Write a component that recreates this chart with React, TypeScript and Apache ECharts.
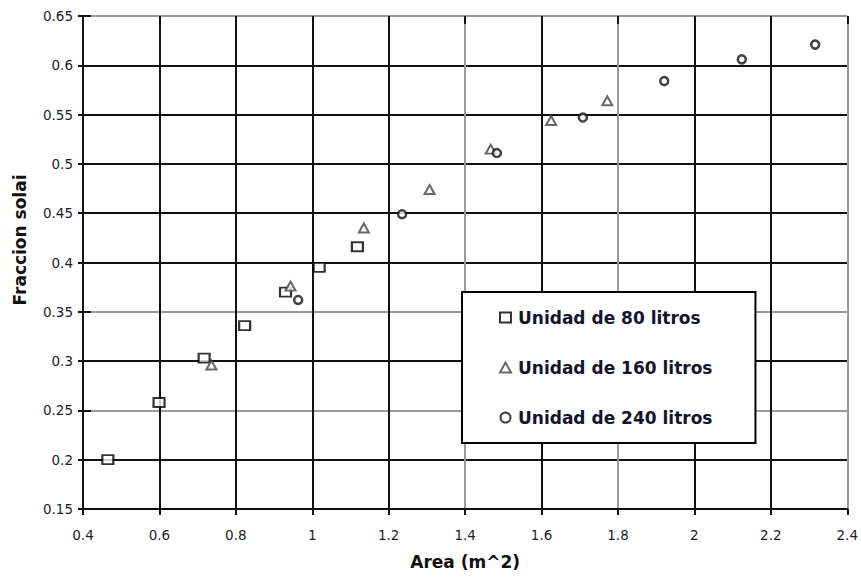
import React, { useEffect, useRef } from "react";
import * as echarts from "echarts";

const area80 = [0.465, 0.599, 0.717, 0.823, 0.93, 1.018, 1.118];
const frac80 = [0.2, 0.258, 0.303, 0.336, 0.37, 0.395, 0.416];
const area160 = [0.736, 0.943, 1.135, 1.307, 1.467, 1.625, 1.772];
const frac160 = [0.296, 0.376, 0.435, 0.474, 0.515, 0.544, 0.564];
const area240 = [0.963, 1.235, 1.483, 1.708, 1.921, 2.124, 2.316];
const frac240 = [0.362, 0.449, 0.511, 0.547, 0.584, 0.606, 0.621];
const seriesNames = ["Unidad de 80 litros", "Unidad de 160 litros", "Unidad de 240 litros"];

const FONT = "DejaVu Sans";
const BLK = "#111";
const GRY = "#9a9a9a";
const ySplitColors = [BLK, BLK, GRY, BLK, GRY, BLK, BLK, BLK, BLK, BLK, GRY];
const xSplitColors = [BLK, BLK, BLK, BLK, BLK, GRY, BLK, GRY, BLK, BLK, GRY];

const zip = (xs: number[], ys: number[]) => xs.map((x, i) => [x, ys[i]]);

export default function App() {
  const ref = useRef<HTMLDivElement>(null);
  useEffect(() => {
    const chart = echarts.init(ref.current!, null, { renderer: "svg" });
    const labelStyle = { fontFamily: FONT, fontSize: 13.5, color: "#1c1c2c" };
    const xBase = { type: "value", min: 0.4, max: 2.4, interval: 0.2 };
    const yBase = { type: "value", min: 0.15, max: 0.65, interval: 0.05 };
    chart.setOption({
      animation: false,
      backgroundColor: "#fff",
      grid: { left: 83, right: 13, top: 16, bottom: 70 },
      xAxis: [
        {
          ...xBase,
          name: "Area (m^2)",
          nameLocation: "middle",
          nameGap: 44,
          nameTextStyle: { fontFamily: FONT, fontSize: 17, fontWeight: "bold", color: "#111" },
          axisLine: { show: true, onZero: false, lineStyle: { color: BLK, width: 2 } },
          axisTick: { show: true, inside: false, length: 6, lineStyle: { color: BLK, width: 2 } },
          axisLabel: { ...labelStyle, margin: 19, showMinLabel: true, showMaxLabel: true },
          splitLine: { show: true, showMinLine: true, showMaxLine: true, lineStyle: { color: xSplitColors, width: 2 } },
        },
        {
          ...xBase,
          axisLine: { show: false },
          axisTick: { show: true, inside: true, length: 8, lineStyle: { color: BLK, width: 2 } },
          axisLabel: { show: false },
          splitLine: { show: false },
        },
      ],
      yAxis: [
        {
          ...yBase,
          axisLine: { show: true, onZero: false, lineStyle: { color: BLK, width: 2 } },
          axisTick: { show: true, inside: false, length: 5, lineStyle: { color: BLK, width: 2 } },
          axisLabel: { ...labelStyle, margin: 10, showMinLabel: true, showMaxLabel: true },
          splitLine: { show: true, showMinLine: true, showMaxLine: true, lineStyle: { color: ySplitColors, width: 2 } },
        },
        {
          ...yBase,
          position: "left",
          axisLine: { show: false },
          axisTick: { show: true, inside: true, length: 8, lineStyle: { color: BLK, width: 2 } },
          axisLabel: { show: false },
          splitLine: { show: false },
        },
      ],
      legend: {
        orient: "vertical",
        left: 462,
        top: 292,
        padding: [17, 43, 17, 37],
        itemGap: 33,
        itemWidth: 11,
        itemHeight: 10,
        borderColor: "#000",
        borderWidth: 2,
        backgroundColor: "#fff",
        textStyle: { fontFamily: FONT, fontSize: 17, fontWeight: "bold", color: "#14142a", padding: [0, 0, 0, 2] },
        data: [
          { name: seriesNames[0], icon: "rect" },
          { name: seriesNames[1], icon: "triangle" },
          { name: seriesNames[2], icon: "circle" },
        ],
      },
      graphic: [
        {
          type: "text",
          x: 20,
          y: 240,
          rotation: Math.PI / 2,
          style: {
            text: "Fraccion solai",
            fontFamily: FONT,
            fontSize: 17,
            fontWeight: "bold",
            fill: "#111",
            align: "center",
            verticalAlign: "middle",
          },
        },
      ],
      series: [
        {
          name: seriesNames[0],
          type: "scatter",
          symbol: "rect",
          symbolSize: [11, 9],
          itemStyle: { color: "#fff", borderColor: "#000", borderWidth: 2 },
          data: zip(area80, frac80),
          z: 5,
        },
        {
          name: seriesNames[1],
          type: "scatter",
          symbol: "triangle",
          symbolSize: [10, 9],
          itemStyle: { color: "#fff", borderColor: "#444", borderWidth: 2 },
          data: zip(area160, frac160),
          z: 5,
        },
        {
          name: seriesNames[2],
          type: "scatter",
          symbol: "circle",
          symbolSize: 8,
          itemStyle: { color: "#fff", borderColor: "#111", borderWidth: 2.5 },
          data: zip(area240, frac240),
          z: 5,
        },
      ],
    });
    return () => chart.dispose();
  }, []);
  return (
    <div
      ref={ref}
      style={{ position: "absolute", left: 0, top: 0, width: 861, height: 579 }}
    />
  );
}
